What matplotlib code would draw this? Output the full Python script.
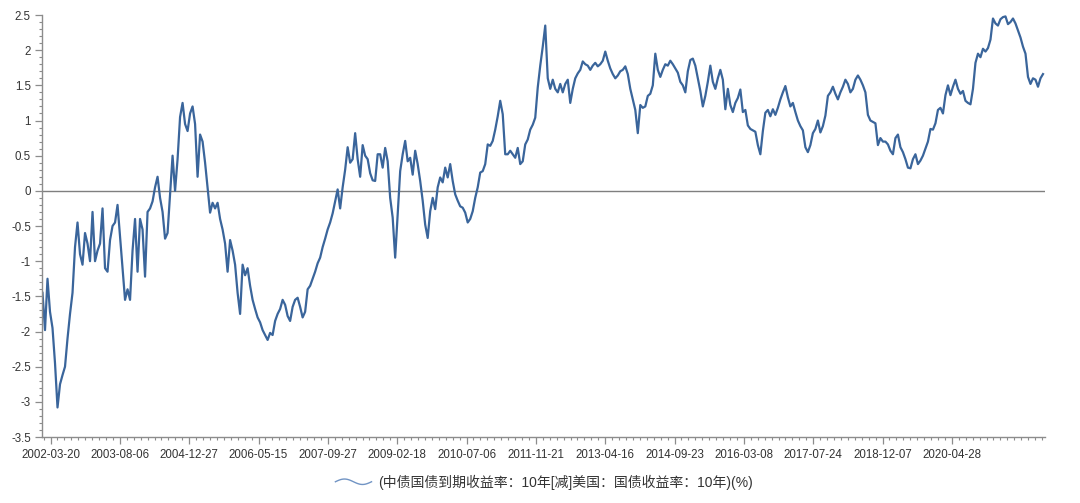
import numpy as np
import matplotlib
matplotlib.use("Agg")
import matplotlib.pyplot as plt
from matplotlib.ticker import FixedLocator, MultipleLocator, FormatStrFormatter
from matplotlib.legend_handler import HandlerBase
from matplotlib.lines import Line2D

plt.rcParams['font.family'] = ['Liberation Sans', 'Noto Sans CJK SC', 'DejaVu Sans']
plt.rcParams['axes.unicode_minus'] = False

# China 10y minus US 10y yield spread (%), one value per ~2.5px
spread_0204 = [-1.45, -1.98, -1.25, -1.72, -1.95, -2.45, -3.08, -2.75, -2.62, -2.50,
               -2.10, -1.75, -1.45, -0.80, -0.45, -0.90, -1.05, -0.60, -0.75, -1.00,
               -0.30, -1.00, -0.85, -0.75, -0.25, -1.10, -1.15, -0.70, -0.50, -0.45,
               -0.20, -0.65, -1.10, -1.55, -1.40, -1.55, -0.85, -0.40, -1.15, -0.40,
               -0.55, -1.22, -0.30, -0.25, -0.15, 0.05, 0.20, -0.10, -0.30, -0.68,
               -0.60, -0.05, 0.50, 0.00, 0.45, 1.05, 1.25, 0.95, 0.85, 1.10,
               1.20, 0.95, 0.20, 0.80, 0.70, 0.40, 0.05]
spread_0507 = [-0.31, -0.17, -0.25, -0.17, -0.40, -0.55, -0.75, -1.15, -0.70, -0.85,
               -1.05, -1.45, -1.75, -1.05, -1.20, -1.10, -1.35, -1.55, -1.68, -1.80,
               -1.87, -1.98, -2.05, -2.12, -2.02, -2.05, -1.85, -1.75, -1.68, -1.55,
               -1.62, -1.78, -1.85, -1.65, -1.55, -1.52, -1.65, -1.80, -1.72, -1.40,
               -1.35, -1.25, -1.15, -1.03, -0.95, -0.80, -0.68, -0.55, -0.45, -0.32,
               -0.15, 0.02, -0.25, 0.05, 0.30, 0.62, 0.40, 0.45, 0.82, 0.45,
               0.20, 0.65, 0.50, 0.45, 0.25, 0.15]
spread_0811 = [0.14, 0.52, 0.52, 0.33, 0.61, 0.42, -0.10, -0.38, -0.95, -0.33,
               0.28, 0.52, 0.71, 0.42, 0.47, 0.23, 0.57, 0.38, 0.14, -0.14,
               -0.48, -0.67, -0.29, -0.10, -0.26, 0.05, 0.19, 0.12, 0.33, 0.19,
               0.38, 0.14, -0.05, -0.14, -0.22, -0.24, -0.31, -0.45, -0.40, -0.29,
               -0.10, 0.05, 0.26, 0.28, 0.38, 0.66, 0.64, 0.71, 0.87, 1.06,
               1.28, 1.09, 0.52, 0.52, 0.57, 0.52, 0.47, 0.61, 0.38, 0.42,
               0.66, 0.73, 0.87, 0.94, 1.04, 1.47]
spread_1114 = [1.78, 2.05, 2.35, 1.60, 1.45, 1.58, 1.45, 1.40, 1.52, 1.40,
               1.52, 1.58, 1.25, 1.45, 1.60, 1.67, 1.72, 1.84, 1.80, 1.78,
               1.72, 1.78, 1.82, 1.77, 1.80, 1.85, 1.98, 1.85, 1.74, 1.66,
               1.60, 1.64, 1.70, 1.72, 1.77, 1.66, 1.45, 1.30, 1.15, 0.82,
               1.22, 1.18, 1.20, 1.35, 1.38, 1.50, 1.95, 1.72, 1.62, 1.72,
               1.80, 1.78, 1.85, 1.80, 1.74, 1.68, 1.55, 1.50, 1.40, 1.70,
               1.86, 1.88, 1.78, 1.60, 1.42, 1.20]
spread_1418 = [1.35, 1.55, 1.78, 1.55, 1.45, 1.60, 1.72, 1.58, 1.16, 1.45,
               1.22, 1.12, 1.25, 1.32, 1.44, 1.12, 1.15, 0.93, 0.88, 0.86,
               0.84, 0.65, 0.52, 0.85, 1.11, 1.15, 1.06, 1.16, 1.08, 1.18,
               1.30, 1.40, 1.49, 1.33, 1.20, 1.25, 1.12, 1.00, 0.92, 0.86,
               0.62, 0.55, 0.65, 0.82, 0.88, 1.00, 0.83, 0.92, 1.07, 1.35,
               1.40, 1.48, 1.38, 1.30, 1.40, 1.48, 1.58, 1.52, 1.40, 1.45,
               1.58, 1.64, 1.58, 1.50, 1.40, 1.08, 1.00, 0.98, 0.96, 0.65]
spread_1821 = [0.75, 0.70, 0.70, 0.66, 0.57, 0.52, 0.75, 0.80, 0.62, 0.55,
               0.45, 0.33, 0.32, 0.45, 0.52, 0.38, 0.43, 0.50, 0.60, 0.70,
               0.88, 0.87, 0.96, 1.15, 1.18, 1.10, 1.36, 1.50, 1.36, 1.48,
               1.58, 1.45, 1.38, 1.42, 1.28, 1.25, 1.23, 1.45, 1.82, 1.95,
               1.90, 2.02, 1.98, 2.03, 2.15, 2.45, 2.38, 2.35, 2.44, 2.47,
               2.48, 2.37, 2.40, 2.45, 2.38, 2.28, 2.18, 2.05, 1.95, 1.62,
               1.52, 1.60, 1.58, 1.48, 1.60, 1.66]

spread = np.array(spread_0204 + spread_0507 + spread_0811 + spread_1114 + spread_1418 + spread_1821)
idx = np.arange(len(spread))

date_labels = ['2002-03-20', '2003-08-06', '2004-12-27', '2006-05-15', '2007-09-27',
               '2009-02-18', '2010-07-06', '2011-11-21', '2013-04-16', '2014-09-23',
               '2016-03-08', '2017-07-24', '2018-12-07', '2020-04-28']
tick_first = 3.2
tick_step = 27.72

legend_label = '(中债国债到期收益率：10年[减]美国：国债收益率：10年)(%)'


class WaveHandler(HandlerBase):
    def create_artists(self, legend, orig_handle, xdescent, ydescent, width, height, fontsize, trans):
        t = np.linspace(0, 1, 40)
        xs = -xdescent + t * width
        ys = -ydescent + height / 2 + height * 0.28 * np.sin(2 * np.pi * t)
        ln = Line2D(xs, ys, color='#7194c4', lw=1.0, transform=trans)
        return [ln]


fig = plt.figure(figsize=(10.8, 5.03), dpi=100)
ax = fig.add_axes([42 / 1080, 1 - 437 / 503, (1045 - 42) / 1080, (437 - 15) / 503])

line, = ax.plot(idx, spread, color='#3a659b', lw=1.6)
ax.axhline(0, color='#7f7f7f', lw=1.0, zorder=1)

ax.set_xlim(-0.2, 400.8)
ax.set_ylim(-3.5, 2.5)

majors = tick_first + tick_step * np.arange(len(date_labels))
ax.xaxis.set_major_locator(FixedLocator(majors))
ax.set_xticklabels(date_labels)
minors = np.arange(tick_first - tick_step, 402, tick_step / 10)
ax.xaxis.set_minor_locator(FixedLocator(minors[(minors > -0.2) & (minors < 400.8)]))

ax.yaxis.set_major_locator(MultipleLocator(0.5))
ax.yaxis.set_minor_locator(MultipleLocator(0.1))
ax.yaxis.set_major_formatter(FormatStrFormatter('%g'))

for s in ['top', 'right']:
    ax.spines[s].set_visible(False)
for s in ['left', 'bottom']:
    ax.spines[s].set_color('#8c8c8c')
    ax.spines[s].set_linewidth(1.0)

ax.tick_params(which='major', direction='out', length=5, width=0.9, color='#8c8c8c',
               labelsize=8.3, labelcolor='#333333')
ax.tick_params(which='minor', direction='out', length=2.5, width=0.8, color='#8c8c8c')
ax.tick_params(axis='x', pad=4)
ax.tick_params(axis='y', pad=3)

fig.legend([line], [legend_label], handler_map={line: WaveHandler()},
           loc='center', bbox_to_anchor=(0.504, 1 - 482 / 503), frameon=False,
           fontsize=10, handlelength=2.6, handletextpad=0.5, labelcolor='#333333')

fig.savefig('out.png', dpi=100)
